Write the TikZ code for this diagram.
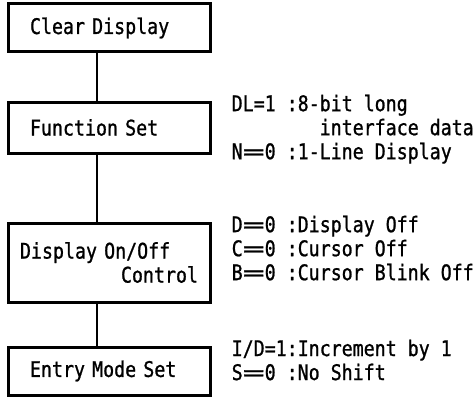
\documentclass[tikz,border=0pt]{standalone}
\usepackage{fontspec}
\usepackage{graphicx}
\newfontfamily\lcdfont[FakeStretch=0.85,FakeBold=1]{DejaVu Sans Mono}
\usetikzlibrary{positioning}
\newcommand{\weq}{\scalebox{2}[1]{=}}
\tikzset{
  cmdbox/.style={draw, line width=3pt, minimum width=202pt, inner xsep=22pt, text width=158pt, align=left},
  cmdbox2/.style={cmdbox, inner xsep=12pt, text width=178pt},
  setnote/.style={anchor=north west, inner sep=0pt, align=left},
  link/.style={line width=1.8pt}
}

\begin{document}
\begin{tikzpicture}[x=1pt, y=-1pt, every node/.style={font=\lcdfont\fontsize{21.5}{24}\selectfont}]
  \useasboundingbox (0,0) rectangle (476,396);
  \node[cmdbox, minimum height=48pt] (clear) at (109,28) {Clear Display};
  \node[cmdbox, minimum height=51pt] (func) at (109,127.5) {Function Set};
  \node[cmdbox2, minimum height=79pt] (disp) at (109,262.5) {Display On/Off\\\hspace*{\fill}Control};
  \node[cmdbox, minimum height=48pt] (entry) at (109,371) {Entry Mode Set};
  \draw[link] ([xshift=-12pt]clear.south) -- ([xshift=-12pt]func.north);
  \draw[link] ([xshift=-12pt]func.south) -- ([xshift=-12pt]disp.north);
  \draw[link] ([xshift=-12pt]disp.south) -- ([xshift=-12pt]entry.north);
  \node[setnote] (funcnote) at ([xshift=20pt,yshift=6pt]func.north east) {DL=1 :8-bit long\\\phantom{DL=1 :8-}interface data\\N\weq0 :1-Line Display};
  \node[setnote] (dispnote) at ([xshift=20pt,yshift=6pt]disp.north east) {D\weq0 :Display Off\\C\weq0 :Cursor Off\\B\weq0 :Cursor Blink Off};
  \node[setnote] (entrynote) at ([xshift=20pt,yshift=6pt]entry.north east) {I/D=1:Increment by 1\\S\weq0 :No Shift};
\end{tikzpicture}
\end{document}
